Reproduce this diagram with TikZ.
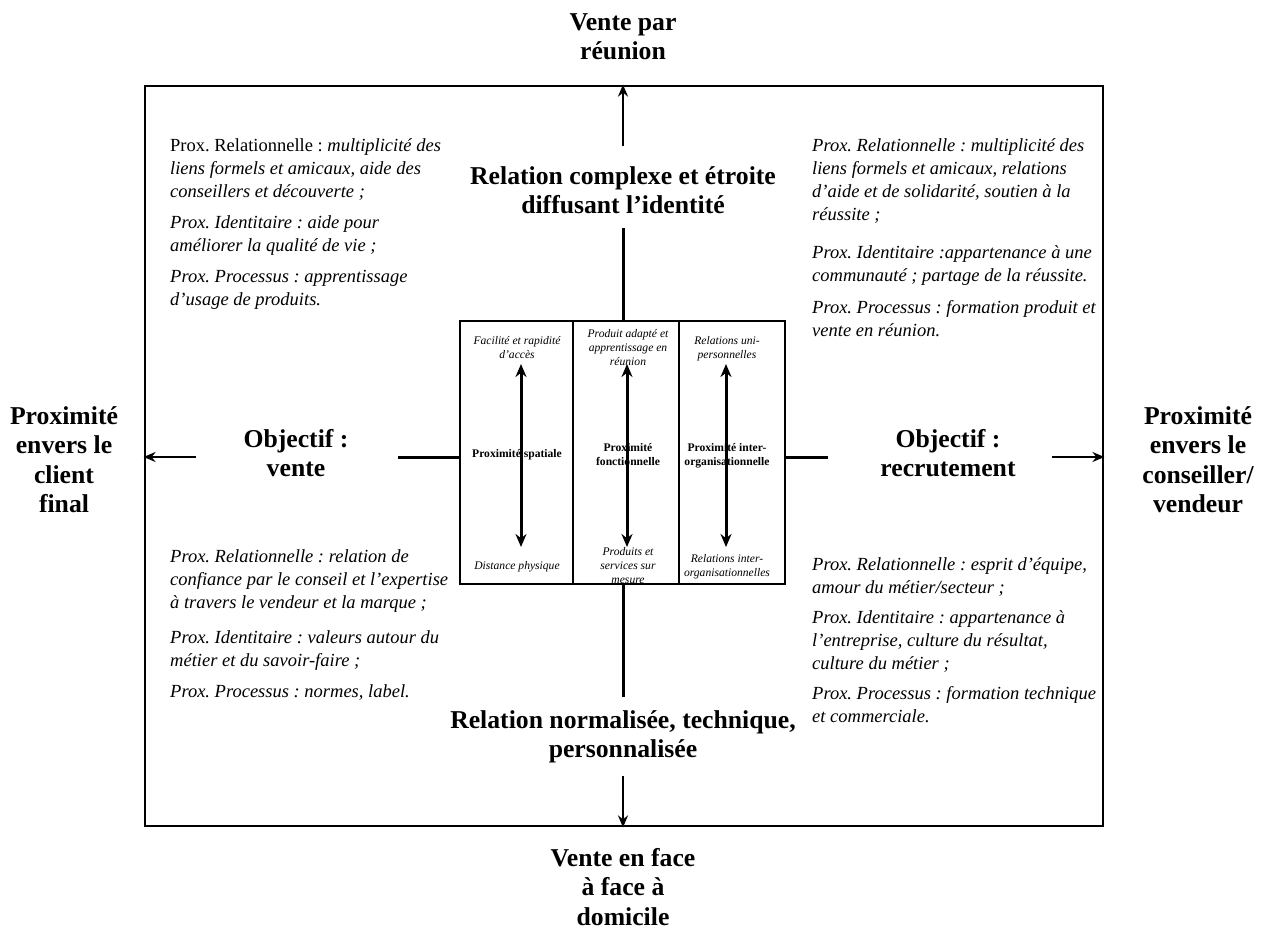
\documentclass[tikz,border=0pt]{standalone}
\usepackage{fontspec}
\setmainfont{Liberation Serif}
\usetikzlibrary{arrows.meta}
\frenchspacing
\begin{document}
\begin{tikzpicture}[x=1pt,y=-1pt,
 big/.style={font=\bfseries\fontsize{25.7}{29.5}\selectfont, align=center, inner sep=0pt, anchor=base},
 para/.style={font=\itshape\fontsize{18.5}{23}\selectfont, align=left, inner sep=0pt, anchor=base west},
 small/.style={font=\itshape\fontsize{11.6}{14}\selectfont, align=center, inner sep=0pt, anchor=base},
 smallb/.style={font=\bfseries\fontsize{11.6}{14}\selectfont, align=center, inner sep=0pt, anchor=base},
 col/.style={draw, line width=1.3pt, minimum height=263pt, inner sep=0pt},
 arr/.style={line width=2.5pt, -{Stealth[length=12pt,width=10pt]}},
 darr/.style={line width=3pt, {Stealth[length=13pt,width=11pt]}-{Stealth[length=13pt,width=11pt]}},
 link/.style={line width=3pt}]
\useasboundingbox (0,0) rectangle (1266,932);
% frame
\node[draw, line width=2.8pt, minimum width=958pt, minimum height=740pt, inner sep=0pt] (frame) at (624,456) {};
% central columns
\node[col, minimum width=113pt] (c1) at (516.5,452.5) {};
\node[col, minimum width=106pt] (c2) at (626,452.5) {};
\node[col, minimum width=106pt] (c3) at (732,452.5) {};
% titles (positions = baseline of last line)
\node[big] (top) at (623,59.5) {Vente par\\réunion};
\node[big] (rc) at (623,213.5) {Relation complexe et étroite\\diffusant l’identité};
\node[big] (ov) at (296,476.5) {Objectif :\\vente};
\node[big] (or) at (948,476.5) {Objectif :\\recrutement};
\node[big] (lp) at (64,512.5) {Proximité\\envers le\\client\\final};
\node[big] (rp) at (1198,512.5) {Proximité\\envers le\\conseiller/\\vendeur};
\node[big] (rn) at (623,757.5) {Relation normalisée, technique,\\personnalisée};
\node[big] (bot) at (623,925) {Vente en face\\à face à\\domicile};
% paragraphs top-left
\node[para] (tl1) at (170,197) {{\upshape Prox. Relationnelle :} multiplicité des\\liens formels et amicaux, aide des\\conseillers et découverte ;};
\node[para] (tl2) at (170,251) {Prox. Identitaire : aide pour\\améliorer la qualité de vie ;};
\node[para] (tl3) at (170,305) {Prox. Processus : apprentissage\\d’usage de produits.};
% top-right
\node[para] (tr1) at (812,220) {Prox. Relationnelle : multiplicité des\\liens formels et amicaux, relations\\d’aide et de solidarité, soutien à la\\réussite ;};
\node[para] (tr2) at (812,281) {Prox. Identitaire :appartenance à une\\communauté ; partage de la réussite.};
\node[para] (tr3) at (812,336) {Prox. Processus : formation produit et\\vente en réunion.};
% bottom-left
\node[para] (bl1) at (170,608) {Prox. Relationnelle : relation de\\confiance par le conseil et l’expertise\\à travers le vendeur et la marque ;};
\node[para] (bl2) at (170,666) {Prox. Identitaire : valeurs autour du\\métier et du savoir-faire ;};
\node[para] (bl3) at (170,697) {Prox. Processus : normes, label.};
% bottom-right
\node[para] (br1) at (812,593) {Prox. Relationnelle : esprit d’équipe,\\amour du métier/secteur ;};
\node[para] (br2) at (812,669) {Prox. Identitaire : appartenance à\\l’entreprise, culture du résultat,\\culture du métier ;};
\node[para] (br3) at (812,722) {Prox. Processus : formation technique\\et commerciale.};
% column texts
\node[small] (c1t) at (517,358) {Facilité et rapidité\\d’accès};
\node[smallb] (c1m) at (517,457) {Proximité spatiale};
\node[small] (c1b) at (517,569) {Distance physique};
\node[small] (c2t) at (628,365) {Produit adapté et\\apprentissage en\\réunion};
\node[smallb] (c2m) at (628,465) {Proximité\\fonctionnelle};
\node[small] (c2b) at (628,583) {Produits et\\services sur\\mesure};
\node[small] (c3t) at (727,358) {Relations uni-\\personnelles};
\node[smallb] (c3m) at (727,465) {Proximité inter-\\organisationnelle};
\node[small] (c3b) at (727,576) {Relations inter-\\organisationnelles};
% double arrows in columns
\coordinate (a1t) at (521,364); \coordinate (a1b) at (521,547);
\coordinate (a2t) at (627,364); \coordinate (a2b) at (627,547);
\coordinate (a3t) at (726,364); \coordinate (a3b) at (726,547);
\draw[darr] (a1t) -- (a1b);
\draw[darr] (a2t) -- (a2b);
\draw[darr] (a3t) -- (a3b);
% links to centre
\coordinate (lt) at (623,228);
\coordinate (lb) at (623,697);
\coordinate (ll) at (398,457);
\coordinate (lr) at (828,457);
\draw[link] (lt) -- (lt |- c2.north);
\draw[link] (lb) -- (lb |- c2.south);
\draw[link] (ll) -- (ll -| c1.west);
\draw[link] (lr) -- (lr -| c3.east);
% outer arrows
\coordinate (at) at (623,146);
\coordinate (ab) at (623,776);
\coordinate (al) at (196,457);
\coordinate (ar) at (1052,457);
\draw[arr] (at) -- (at |- frame.north);
\draw[arr] (ab) -- (ab |- frame.south);
\draw[arr] (al) -- (al -| frame.west);
\draw[arr] (ar) -- (ar -| frame.east);
\end{tikzpicture}
\end{document}
